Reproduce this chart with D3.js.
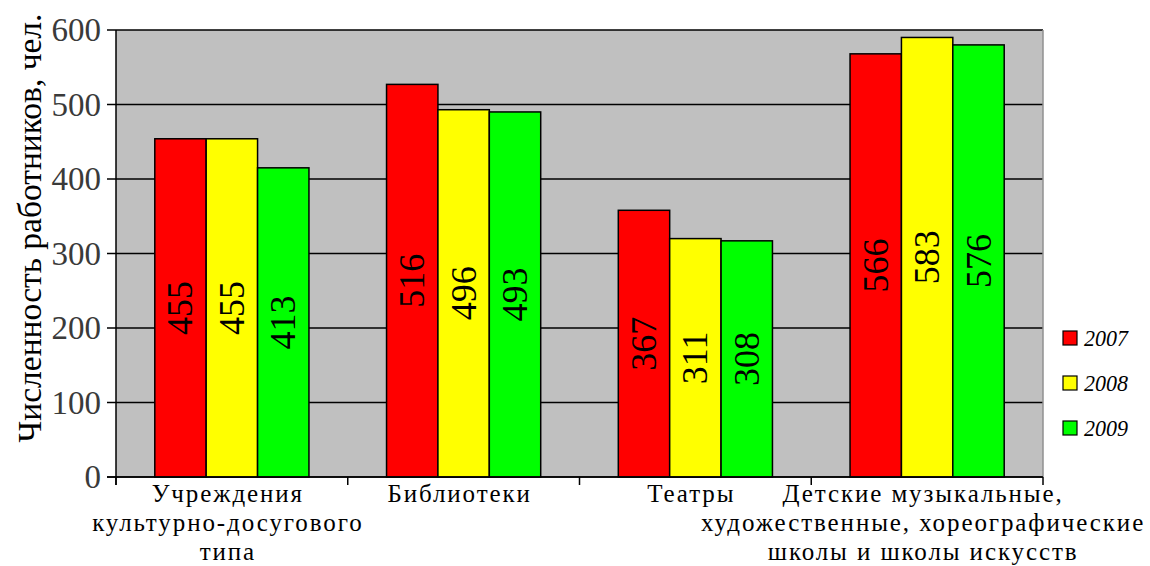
<!DOCTYPE html>
<html>
<head>
<meta charset="utf-8">
<script src="https://cdn.jsdelivr.net/npm/d3@7"></script>
<style>
  body { margin: 0; background: #fff; }
</style>
</head>
<body>
<script>
// категории по оси X (строки подписи)
var categories = [
    ["Учреждения", "культурно-досугового", "типа"],
    ["Библиотеки"],
    ["Театры"],
    ["Детские музыкальные,", "художественные,  хореографические", "школы и школы искусств"]
];
var years = ["2007", "2008", "2009"];

// высоты столбцов, как они нарисованы
var v2007 = [454, 527, 358, 568];
var v2008 = [454, 493, 320, 590];
var v2009 = [415, 490, 317, 580];

// подписи на столбцах
var l2007 = ["455", "516", "367", "566"];
var l2008 = ["455", "496", "311", "583"];
var l2009 = ["413", "493", "308", "576"];

var yTicks = [0, 100, 200, 300, 400, 500, 600];
var colors = ["#ff0000", "#ffff00", "#00ff00"];

var width = 1150;
var height = 566;
var serif = "'Liberation Serif'";

var svg = d3.select("body")
    .append("svg")
    .attr("width", width)
    .attr("height", height);

var plot = { left: 116, right: 1043, top: 30, bottom: 477 };

var yScale = d3.scaleLinear()
    .domain([0, 600])
    .range([plot.bottom, plot.top]);

var catIdx = categories.map(function(d, i) { return i; });
var x0 = d3.scaleBand()
    .domain(catIdx)
    .range([plot.left, plot.right]);

var x1 = d3.scaleBand()
    .domain(years)
    .range([0, x0.bandwidth()])
    .paddingInner(0)
    .paddingOuter(0.755);

// фон области построения
svg.append("rect")
    .attr("x", plot.left)
    .attr("y", plot.top)
    .attr("width", plot.right - plot.left)
    .attr("height", plot.bottom - plot.top)
    .attr("fill", "#c0c0c0");

// сетка
svg.selectAll("line.grid")
    .data(yTicks)
    .enter()
    .append("line")
    .attr("class", "grid")
    .attr("x1", plot.left - 9)
    .attr("x2", plot.right)
    .attr("y1", function(d) { return yScale(d); })
    .attr("y2", function(d) { return yScale(d); })
    .attr("stroke", "#000")
    .attr("stroke-width", 1.5);

// правая граница
svg.append("line")
    .attr("x1", plot.right).attr("x2", plot.right)
    .attr("y1", plot.top).attr("y2", plot.bottom)
    .attr("stroke", "#909090")
    .attr("stroke-width", 1.5);

// подписи оси Y
svg.selectAll("text.ytick")
    .data(yTicks)
    .enter()
    .append("text")
    .attr("class", "ytick")
    .attr("x", 101)
    .attr("y", function(d) { return yScale(d); })
    .attr("text-anchor", "end")
    .attr("dominant-baseline", "central")
    .style("font-family", serif)
    .attr("font-size", 33)
    .attr("fill", "#3a3a3a")
    .text(function(d) { return d; });

// столбцы
var series = [
    { year: years[0], values: v2007, labels: l2007 },
    { year: years[1], values: v2008, labels: l2008 },
    { year: years[2], values: v2009, labels: l2009 }
];

var groups = svg.selectAll("g.series")
    .data(series)
    .enter()
    .append("g")
    .attr("class", "series");

groups.each(function(s, si) {
    var g = d3.select(this);
    g.selectAll("rect")
        .data(s.values)
        .enter()
        .append("rect")
        .attr("x", function(d, i) { return x0(i) + x1(s.year); })
        .attr("y", function(d) { return yScale(d); })
        .attr("width", x1.bandwidth())
        .attr("height", function(d) { return yScale(0) - yScale(d); })
        .attr("fill", colors[si])
        .attr("stroke", "#000")
        .attr("stroke-width", 1.5);

    g.selectAll("text")
        .data(s.values)
        .enter()
        .append("text")
        .attr("transform", function(d, i) {
            var cx = x0(i) + x1(s.year) + x1.bandwidth() / 2;
            var cy = (yScale(d) + yScale(0)) / 2;
            return "translate(" + cx + "," + cy + ") rotate(-90)";
        })
        .attr("text-anchor", "middle")
        .attr("dominant-baseline", "central")
        .style("font-family", serif)
        .attr("font-size", 36)
        .attr("fill", "#000")
        .text(function(d, i) { return s.labels[i]; });
});

// оси
svg.append("line")
    .attr("x1", plot.left).attr("x2", plot.left)
    .attr("y1", plot.top).attr("y2", plot.bottom + 8)
    .attr("stroke", "#000").attr("stroke-width", 1.5);

svg.append("line")
    .attr("x1", plot.left - 9).attr("x2", plot.right)
    .attr("y1", plot.bottom).attr("y2", plot.bottom)
    .attr("stroke", "#000").attr("stroke-width", 1.5);

svg.selectAll("line.xtick")
    .data(catIdx.concat([categories.length]))
    .enter()
    .append("line")
    .attr("class", "xtick")
    .attr("x1", function(d) { return plot.left + d * x0.step(); })
    .attr("x2", function(d) { return plot.left + d * x0.step(); })
    .attr("y1", plot.bottom)
    .attr("y2", plot.bottom + 8)
    .attr("stroke", "#000")
    .attr("stroke-width", 1.5);

// подписи категорий
svg.selectAll("text.cat")
    .data(categories)
    .enter()
    .append("text")
    .attr("class", "cat")
    .attr("text-anchor", "middle")
    .style("font-family", serif)
    .attr("font-size", 25)
    .attr("letter-spacing", 1.9)
    .attr("fill", "#000")
    .each(function(lines, i) {
        var t = d3.select(this);
        lines.forEach(function(line, k) {
            t.append("tspan")
                .attr("x", x0(i) + x0.bandwidth() / 2 - 4)
                .attr("y", 502 + k * 29)
                .text(line);
        });
    });

// название оси Y
svg.append("text")
    .attr("transform", "translate(29,228) rotate(-90)")
    .attr("text-anchor", "middle")
    .attr("dominant-baseline", "central")
    .style("font-family", serif)
    .attr("font-size", 33.5)
    .attr("fill", "#000")
    .text("Численность работников, чел.");

// легенда
var legend = svg.selectAll("g.legend")
    .data(years)
    .enter()
    .append("g")
    .attr("class", "legend")
    .attr("transform", function(d, i) { return "translate(1063," + (338 + i * 45) + ")"; });

legend.append("rect")
    .attr("x", 0)
    .attr("y", -7)
    .attr("width", 14)
    .attr("height", 14)
    .attr("fill", function(d, i) { return colors[i]; })
    .attr("stroke", "#000")
    .attr("stroke-width", 1.2);

legend.append("text")
    .attr("x", 21)
    .attr("y", 0)
    .attr("dominant-baseline", "central")
    .style("font-family", serif)
    .attr("font-size", 24)
    .attr("font-style", "italic")
    .attr("textLength", 44)
    .attr("lengthAdjust", "spacingAndGlyphs")
    .text(function(d) { return d; });
</script>
</body>
</html>
